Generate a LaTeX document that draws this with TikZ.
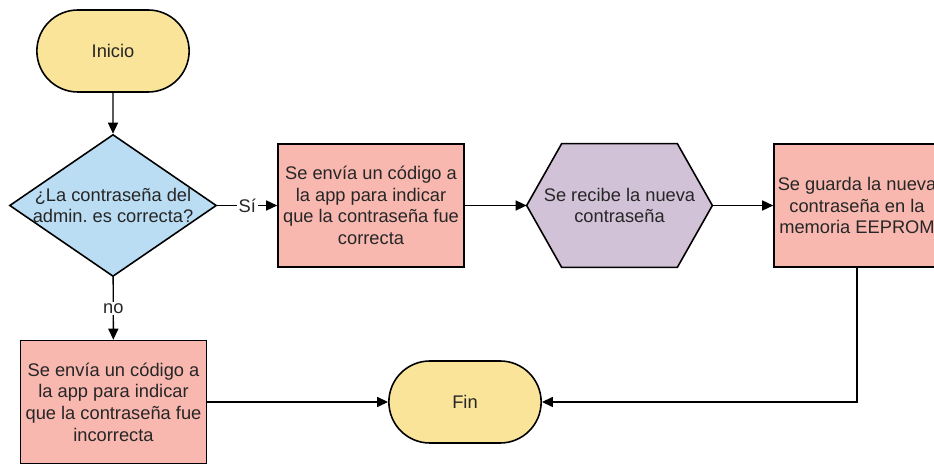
\documentclass[tikz,border=0pt]{standalone}
\usepackage{fontspec}
\setmainfont{Liberation Sans}
\usetikzlibrary{shapes.geometric}
\usetikzlibrary{shapes.misc}
\usetikzlibrary{arrows.meta}
\usetikzlibrary{backgrounds}
\definecolor{startyellow}{RGB}{249,228,154}
\definecolor{questionblue}{RGB}{186,221,243}
\definecolor{stepred}{RGB}{248,184,176}
\definecolor{inputpurple}{RGB}{210,194,216}

\begin{document}
\begin{tikzpicture}[
    every node/.style={font=\fontsize{10.4}{12.3}\selectfont, text=black!85},
    terminal/.style={draw, rounded rectangle, fill=startyellow, line width=0.9pt,
      minimum width=3.28cm, minimum height=1.64cm},
    decision/.style={draw, diamond, fill=questionblue, line width=0.9pt, inner sep=0pt,
      minimum width=4.14cm, minimum height=2.84cm},
    process/.style={draw, rectangle, fill=stepred, line width=0.9pt, align=center,
      minimum width=3.72cm, minimum height=2.46cm, inner sep=1pt},
    datain/.style={fill=inputpurple, line width=0.9pt, draw},
    tag/.style={fill=white, inner sep=1pt},
    flow/.style={line width=0.8pt, -{Triangle[length=0.22cm, width=0.2cm]}}
  ]
    \useasboundingbox (0,0) rectangle (18.68,-9.28);

    \node[terminal] (inicio) at (2.26,-1.02) {Inicio};
    \node[decision, label={[align=center]center:{¿La contraseña del\\admin.\ es correcta?}}] (pregunta) at (2.26,-4.11) {};
    \node[process] (correcta) at (7.42,-4.11) {Se envía un código a\\la app para indicar\\que la contraseña fue\\correcta};
    \node[align=center, minimum width=3.70cm, minimum height=2.46cm, inner sep=0pt] (recibe) at (12.39,-4.11) {Se recibe la nueva\\contraseña};
    \node[process, minimum width=3.32cm, inner xsep=0pt] (guarda) at (17.14,-4.11) {Se guarda la nueva\\contraseña en la\\memoria EEPROM};
    \node[process] (incorrecta) at (2.27,-8.04) {Se envía un código a\\la app para indicar\\que la contraseña fue\\incorrecta};
    \node[terminal] (fin) at (9.30,-8.04) {Fin};

    % hexagon behind the text
    \begin{scope}[on background layer]
      \draw[datain] ([xshift=0.7cm]recibe.north west) -- ([xshift=-0.7cm]recibe.north east) -- (recibe.east)
        -- ([xshift=-0.7cm]recibe.south east) -- ([xshift=0.7cm]recibe.south west) -- (recibe.west) -- cycle;
    \end{scope}

    \draw[flow] (inicio) -- (pregunta);
    \draw[flow] (pregunta) -- node[tag] (si) {Sí} (correcta);
    \draw[flow] (correcta) -- (recibe);
    \draw[flow] (recibe) -- (guarda);
    \draw[flow] (pregunta) -- node[tag] (no) {no} (incorrecta);
    \draw[flow] (incorrecta) -- (fin);
    \draw[flow] (guarda) |- (fin);
  \end{tikzpicture}
\end{document}
